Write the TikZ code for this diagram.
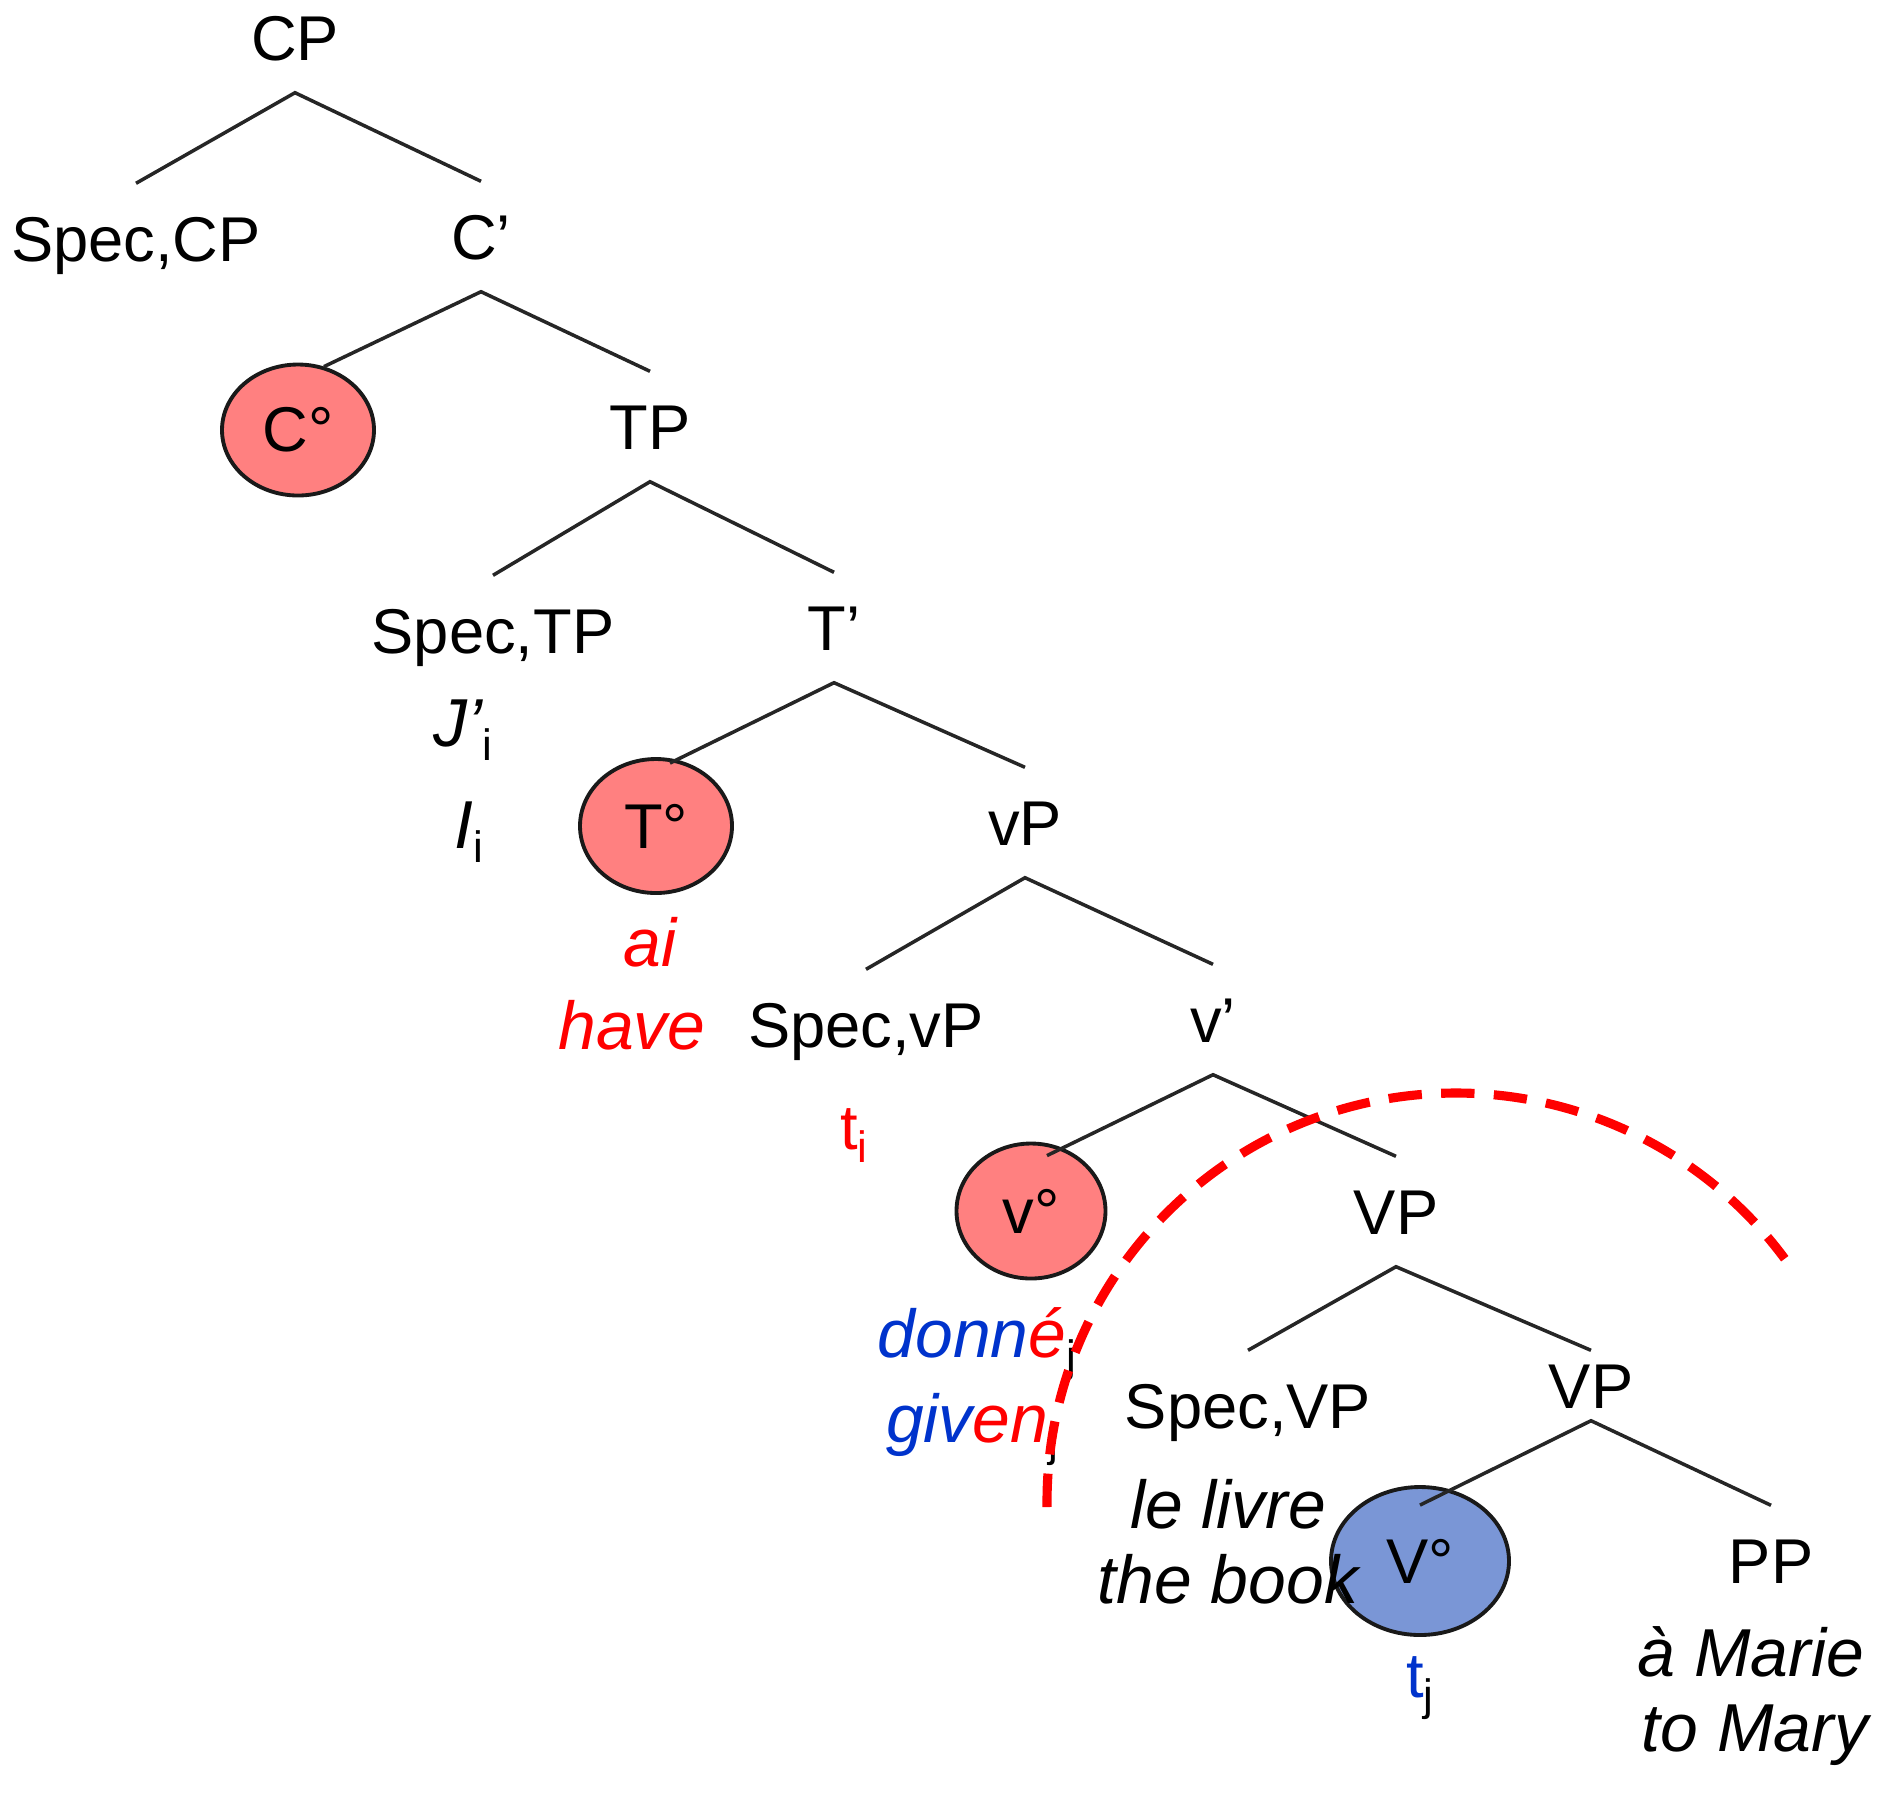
\documentclass[tikz,border=0pt]{standalone}
\usepackage{fontspec}
\setmainfont{Liberation Sans}
\usetikzlibrary{shapes.geometric}
\definecolor{headred}{RGB}{255,128,128}
\definecolor{headblue}{RGB}{122,150,214}
\definecolor{movered}{RGB}{255,0,0}
\definecolor{moveblue}{RGB}{0,51,204}
% small lowered index (i, j)
\newcommand{\idx}[1]{\raisebox{-0.22em}{\fontsize{12.5}{14}\selectfont\upshape #1}}
\begin{document}
\begin{tikzpicture}[
  lbl/.style={font=\fontsize{18}{21}\selectfont, inner xsep=0pt, inner ysep=0.32cm,
    text height=0.45cm, text depth=0pt, anchor=base},
  gloss/.style={font=\fontsize{19.3}{22}\selectfont\itshape, inner sep=0pt, anchor=base},
  head/.style={ellipse, draw=black!90, line width=1.1pt, inner sep=0pt,
    font=\fontsize{18}{21}\selectfont},
  branch/.style={draw=black!85, line width=1pt},
  movearc/.style={movered, line width=2.6pt, dash pattern=on 9.5pt off 5.5pt}
]
\useasboundingbox (0,0) rectangle (18.87,-18.03);
% CP
\node[lbl] (cp) at (2.95,-0.60) {CP};
\node[lbl] (speccp) at (1.36,-2.61) {Spec,CP};
\node[lbl] (cbar) at (4.81,-2.59) {C’};
\node[head, fill=headred, minimum width=1.52cm, minimum height=1.31cm] (czero) at (2.98,-4.30) {C°};
% TP
\node[lbl] (tp) at (6.50,-4.49) {TP};
\node[lbl] (spectp) at (4.93,-6.53) {Spec,TP};
\node[lbl] (tbar) at (8.34,-6.50) {T’};
\node[gloss] (je) at (4.63,-7.46) {J’\idx{i}};
\node[gloss] (ie) at (4.69,-8.48) {I\idx{i}};
\node[head, fill=headred, minimum width=1.52cm, minimum height=1.34cm] (tzero) at (6.56,-8.26) {T°};
\node[gloss, movered] (ai) at (6.50,-9.66) {ai};
\node[gloss, movered] (have) at (6.32,-10.49) {have};
% vP
\node[lbl] (vp) at (10.25,-8.45) {vP};
\node[lbl] (specvp) at (8.66,-10.47) {Spec,vP};
\node[lbl] (vbar) at (12.13,-10.42) {v’};
\node[lbl, movered] (ti) at (8.54,-11.49) {t\idx{i}};
\node[head, fill=headred, minimum width=1.49cm, minimum height=1.35cm] (vzero) at (10.31,-12.11) {v°};
\node[gloss] (donne) at (9.77,-13.57) {{\color{moveblue}donn}{\color{movered}é}\idx{j}};
\node[gloss] (given) at (9.72,-14.42) {{\color{moveblue}giv}{\color{movered}en}\idx{j}};
% VP
\node[lbl] (bigvp) at (13.96,-12.34) {VP};
\node[lbl] (specbigvp) at (12.48,-14.28) {Spec,VP};
\node[lbl, inner ysep=0.12cm] (lowvp) at (15.91,-14.08) {VP};
\node[head, fill=headblue, minimum width=1.78cm, minimum height=1.48cm] (bigvzero) at (14.20,-15.61) {V°};
\node[gloss] (livre) at (12.28,-15.28) {le livre};
\node[gloss] (book) at (12.28,-16.03) {the book};
\node[lbl] (pp) at (17.71,-15.83) {PP};
\node[lbl] (tj) at (14.20,-16.97) {{\color{moveblue}t}\idx{j}};
\node[gloss] (marie) at (17.51,-16.76) {à Marie};
\node[gloss] (mary) at (17.55,-17.51) {to Mary};
% branches
\draw[branch] (speccp.north) -- (cp.south) -- (cbar.north);
\draw[branch] ([shift={(0.26,-0.04)}]czero.north) -- (cbar.south) -- (tp.north);
\draw[branch] (spectp.north) -- (tp.south) -- (tbar.north);
\draw[branch] ([shift={(0.14,-0.06)}]tzero.north) -- (tbar.south) -- (vp.north);
\draw[branch] (specvp.north) -- (vp.south) -- (vbar.north);
\draw[branch] ([shift={(0.16,-0.14)}]vzero.north) -- (vbar.south) -- (bigvp.north);
\draw[branch] (specbigvp.north) -- (bigvp.south) -- (lowvp.north);
\draw[branch] ([yshift=-0.2cm]bigvzero.north) -- (lowvp.south) -- (pp.north);
% movement domain
\coordinate (arcc) at (14.56,-15.02);
\draw[movearc] ([shift={(180.7:4.09)}]arcc) arc[start angle=180.7, end angle=36.5, radius=4.09];
\end{tikzpicture}
\end{document}
